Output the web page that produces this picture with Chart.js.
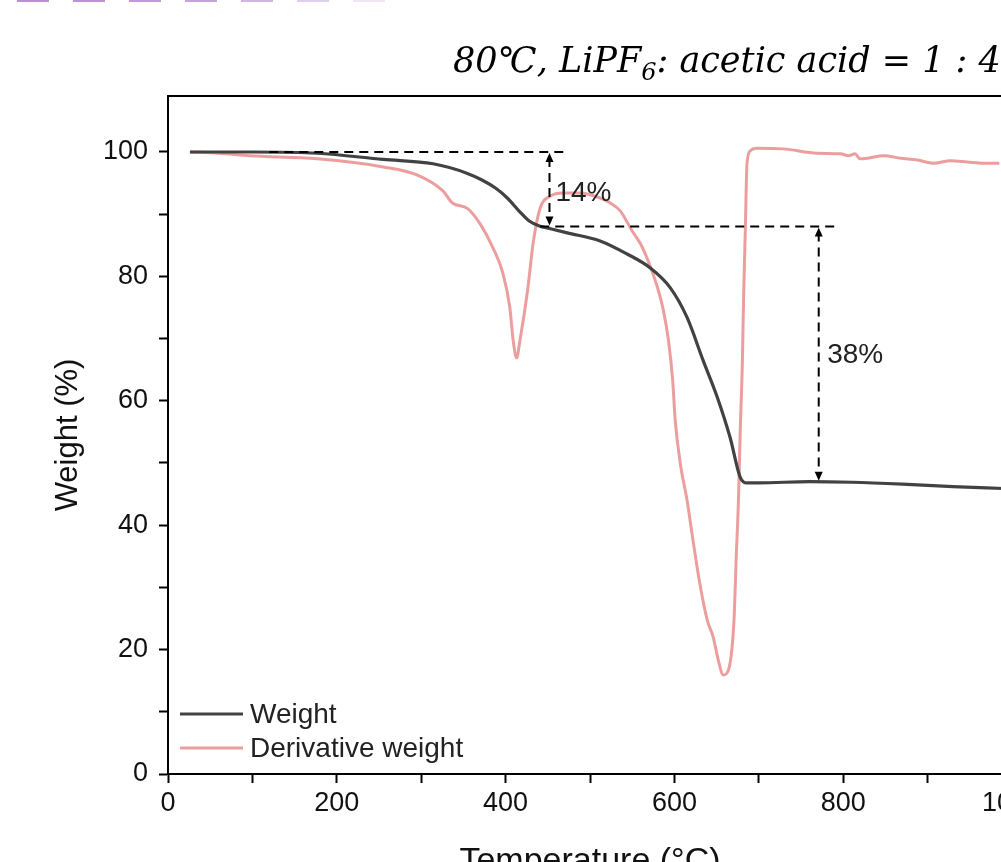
<!DOCTYPE html>
<html>
<head>
<meta charset="utf-8">
<script src="https://cdn.jsdelivr.net/npm/chart.js@4"></script>
<style>
  html, body { margin: 0; padding: 0; background: #fff; overflow: hidden; }
  #wrap { position: relative; width: 1001px; height: 862px; overflow: hidden; }
  #box { position: absolute; left: 0; top: 0; }
  .strip { position: absolute; top: 0; height: 2px; width: 32px; }
</style>
</head>
<body>
<div id="wrap">
  <div id="box"><canvas id="c" width="1080" height="900"></canvas></div>
</div>
<script>
// ── DATA ──────────────────────────────────────────────────────
const weightT = [26, 100, 177, 255, 314, 354, 372, 388, 402, 416, 428, 440, 452, 473, 512, 544, 571, 595, 615, 634, 651, 666, 678, 686, 700, 760, 810, 870, 930, 990];
const weightV = [100, 100, 99.8, 98.8, 98.1, 96.6, 95.5, 94.2, 92.6, 90.5, 88.9, 88.1, 87.7, 87.0, 85.7, 83.6, 81.4, 78.2, 73.4, 66.5, 60.5, 54.1, 47.7, 46.8, 46.8, 47.0, 46.9, 46.6, 46.2, 45.9];

const derivT = [26, 60, 97, 177, 255, 295, 326, 337, 355, 370, 385, 397, 405, 409, 413, 417, 426, 433, 441, 453, 468, 488, 512, 524, 536, 550, 560, 572, 580, 587, 593, 598, 601, 607, 615, 622, 630, 639, 646, 652, 658, 664, 668, 671, 673, 676, 678, 680.5, 682, 684, 686, 690, 698, 729, 769, 797, 806, 814, 820, 829, 848, 868, 888, 907, 927, 947, 966, 985];
const derivV = [100, 99.8, 99.4, 98.9, 97.6, 96.3, 93.7, 91.8, 90.9, 88.4, 84.6, 80.4, 75.0, 69.7, 66.9, 69.7, 77.7, 85.7, 91.0, 92.9, 93.4, 93.4, 92.6, 91.8, 90.5, 87.3, 85.2, 81.4, 78.2, 74.5, 69.7, 63.2, 56.8, 49.9, 44.0, 37.6, 30.7, 24.7, 22.0, 18.3, 15.9, 16.7, 19.9, 25.8, 33.9, 44.5, 55.2, 66.0, 76.6, 87.3, 98.1, 100.2, 100.6, 100.5, 99.8, 99.7, 99.4, 99.7, 98.9, 99.0, 99.4, 99.0, 98.7, 98.2, 98.6, 98.4, 98.2, 98.2];

const seriesNames = ['Weight', 'Derivative weight'];
const seriesColors = ['#424242', '#ec9e9e'];

// guide lines: [fromT, toT, weight]
const guideLines = [[120, 473, 100], [441, 790, 88]];
// double arrows: [T, upper weight, lower weight]
const arrows = [[452, 100, 88], [771, 88, 47]];
// step labels: [text, T, weight]
const stepLabels = [['14%', 459, 93.4], ['38%', 781, 67.3]];

const xTicksMajor = 200;
const yTicksMajor = 20;

// top-of-page stripes (leftover from the page above)
['#b98fd2', '#bb93d4', '#bf9ad7', '#c4a2da', '#d0b4e2', '#e1cdec', '#efe6f5'].forEach((c, i) => {
  const d = document.createElement('div');
  d.className = 'strip';
  d.style.left = (17 + i * 56) + 'px';
  d.style.background = c;
  document.getElementById('wrap').appendChild(d);
});

const zip = (xs, ys) => xs.map((x, i) => ({ x, y: ys[i] }));

// ── DECORATION PLUGIN ─────────────────────────────────────────
const decor = {
  id: 'decor',
  afterDatasetsDraw(chart) {
    const { ctx, chartArea: a, scales: { x, y } } = chart;
    ctx.save();

    // frame
    ctx.strokeStyle = '#000';
    ctx.lineWidth = 2;
    ctx.strokeRect(a.left, a.top, a.right - a.left, a.bottom - a.top);

    // dashed guides
    ctx.setLineDash([9, 6]);
    ctx.lineWidth = 2;
    guideLines.forEach(([t0, t1, w]) => {
      ctx.beginPath();
      ctx.moveTo(x.getPixelForValue(t0), y.getPixelForValue(w));
      ctx.lineTo(x.getPixelForValue(t1), y.getPixelForValue(w));
      ctx.stroke();
    });

    // double arrows
    arrows.forEach(([t, w0, w1]) => {
      const px = x.getPixelForValue(t);
      const p0 = y.getPixelForValue(w0), p1 = y.getPixelForValue(w1);
      ctx.setLineDash([9, 6]);
      ctx.beginPath();
      ctx.moveTo(px, p0 + 6);
      ctx.lineTo(px, p1 - 6);
      ctx.stroke();
      ctx.setLineDash([]);
      ctx.fillStyle = '#000';
      ctx.beginPath();
      ctx.moveTo(px, p0 + 1); ctx.lineTo(px - 4, p0 + 10); ctx.lineTo(px + 4, p0 + 10); ctx.closePath();
      ctx.fill();
      ctx.beginPath();
      ctx.moveTo(px, p1 - 1); ctx.lineTo(px - 4, p1 - 10); ctx.lineTo(px + 4, p1 - 10); ctx.closePath();
      ctx.fill();
    });

    // step labels
    ctx.fillStyle = '#222';
    ctx.font = '28px "Liberation Sans", Arial, sans-serif';
    ctx.textBaseline = 'middle';
    ctx.textAlign = 'left';
    stepLabels.forEach(([s, t, w]) => ctx.fillText(s, x.getPixelForValue(t), y.getPixelForValue(w)));

    // legend
    ctx.font = '28px "Liberation Sans", Arial, sans-serif';
    chart.data.datasets.forEach((ds, i) => {
      const ly = 714 + i * 34;
      ctx.strokeStyle = ds.borderColor;
      ctx.lineWidth = 3;
      ctx.beginPath();
      ctx.moveTo(180, ly);
      ctx.lineTo(243, ly);
      ctx.stroke();
      ctx.fillStyle = '#222';
      ctx.fillText(ds.label, 250, ly + 1);
    });

    // title with subscript
    ctx.fillStyle = '#000';
    ctx.textBaseline = 'alphabetic';
    const big = 'italic 35px "DejaVu Serif", serif';
    const sub = 'italic 24px "DejaVu Serif", serif';
    let cx = 453;
    const by = 72;
    ctx.font = big;
    ctx.fillText('80℃, LiPF', cx, by);
    cx += ctx.measureText('80℃, LiPF').width;
    ctx.font = sub;
    ctx.fillText('6', cx, by + 8);
    cx += ctx.measureText('6').width;
    ctx.font = big;
    ctx.fillText(': acetic acid = 1 : 4', cx, by);

    ctx.restore();
  }
};

// ── CHART ─────────────────────────────────────────────────────
const tickFont = { family: '"Liberation Sans", Arial, sans-serif', size: 27 };

new Chart(document.getElementById('c'), {
  type: 'line',
  data: {
    datasets: [
      { label: seriesNames[0], data: zip(weightT, weightV), borderColor: seriesColors[0], borderWidth: 3.2, pointRadius: 0, cubicInterpolationMode: 'monotone', order: 0 },
      { label: seriesNames[1], data: zip(derivT, derivV), borderColor: seriesColors[1], borderWidth: 3, pointRadius: 0, cubicInterpolationMode: 'monotone', order: 1 }
    ]
  },
  options: {
    responsive: false,
    devicePixelRatio: 1,
    animation: false,
    layout: { padding: { left: 0, top: 96, right: 68, bottom: 0 } },
    plugins: { legend: { display: false }, tooltip: { enabled: false } },
    scales: {
      x: {
        type: 'linear', min: 0, max: 1000,
        afterFit: s => { s.height = 126; },
        ticks: {
          stepSize: 100, autoSkip: false, maxRotation: 0, padding: 4,
          color: '#111', font: tickFont,
          callback: v => (v % xTicksMajor === 0 ? v : '')
        },
        grid: { drawOnChartArea: false, drawTicks: true, tickLength: 9, tickColor: '#000', tickWidth: 2 },
        border: { color: '#000', width: 2 },
        title: { display: true, text: 'Temperature (°C)', color: '#111', font: { family: '"Liberation Sans", Arial, sans-serif', size: 34 }, padding: { top: 0, bottom: 18 } }
      },
      y: {
        type: 'linear', min: 0, max: 109,
        afterFit: s => { s.width = 168; },
        ticks: {
          stepSize: 10, includeBounds: false, padding: 11,
          color: '#111', font: tickFont,
          callback: v => (v % yTicksMajor === 0 ? v : '')
        },
        grid: { drawOnChartArea: false, drawTicks: true, tickLength: 9, tickColor: '#000', tickWidth: 2 },
        border: { color: '#000', width: 2 },
        title: { display: true, text: 'Weight (%)', color: '#111', font: { family: '"Liberation Sans", Arial, sans-serif', size: 31 }, padding: { top: 50, bottom: 0 } }
      }
    }
  },
  plugins: [decor]
});
</script>
</body>
</html>
